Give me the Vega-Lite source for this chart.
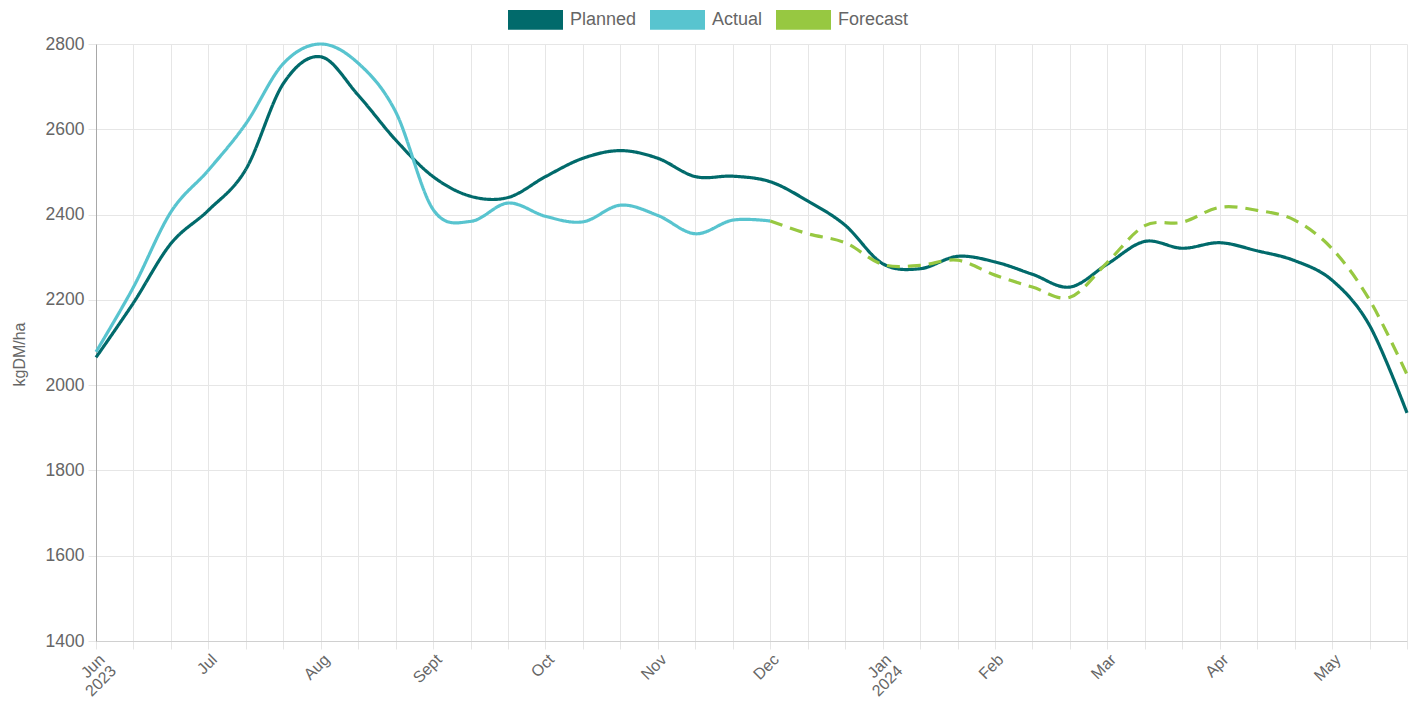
{
  "$schema": "https://vega.github.io/schema/vega-lite/v6.json",
  "width": 1311,
  "height": 597,
  "autosize": {"type": "none"},
  "padding": {"left": 96, "top": 44, "right": 10, "bottom": 63},
  "background": "white",
  "config": {
    "font": "Liberation Sans",
    "view": {"stroke": null},
    "axis": {
      "labelColor": "#666666",
      "labelFontSize": 17.5,
      "titleColor": "#666666",
      "gridColor": "#e6e6e6",
      "gridWidth": 1,
      "tickColor": "#e6e6e6",
      "tickSize": 8,
      "domainColor": "#d0d0d0"
    }
  },
  "data": {
    "values": [
      {"idx": 0, "series": "Planned", "value": 2065},
      {"idx": 1, "series": "Planned", "value": 2193},
      {"idx": 2, "series": "Planned", "value": 2332},
      {"idx": 3, "series": "Planned", "value": 2410},
      {"idx": 4, "series": "Planned", "value": 2506},
      {"idx": 5, "series": "Planned", "value": 2707},
      {"idx": 6, "series": "Planned", "value": 2770},
      {"idx": 7, "series": "Planned", "value": 2680},
      {"idx": 8, "series": "Planned", "value": 2575},
      {"idx": 9, "series": "Planned", "value": 2489},
      {"idx": 10, "series": "Planned", "value": 2443},
      {"idx": 11, "series": "Planned", "value": 2440},
      {"idx": 12, "series": "Planned", "value": 2489},
      {"idx": 13, "series": "Planned", "value": 2532},
      {"idx": 14, "series": "Planned", "value": 2550},
      {"idx": 15, "series": "Planned", "value": 2532},
      {"idx": 16, "series": "Planned", "value": 2489},
      {"idx": 17, "series": "Planned", "value": 2490},
      {"idx": 18, "series": "Planned", "value": 2477},
      {"idx": 19, "series": "Planned", "value": 2432},
      {"idx": 20, "series": "Planned", "value": 2375},
      {"idx": 21, "series": "Planned", "value": 2285},
      {"idx": 22, "series": "Planned", "value": 2273},
      {"idx": 23, "series": "Planned", "value": 2302},
      {"idx": 24, "series": "Planned", "value": 2289},
      {"idx": 25, "series": "Planned", "value": 2260},
      {"idx": 26, "series": "Planned", "value": 2230},
      {"idx": 27, "series": "Planned", "value": 2284},
      {"idx": 28, "series": "Planned", "value": 2337},
      {"idx": 29, "series": "Planned", "value": 2321},
      {"idx": 30, "series": "Planned", "value": 2334},
      {"idx": 31, "series": "Planned", "value": 2315},
      {"idx": 32, "series": "Planned", "value": 2292},
      {"idx": 33, "series": "Planned", "value": 2246},
      {"idx": 34, "series": "Planned", "value": 2140},
      {"idx": 35, "series": "Planned", "value": 1935},
      {"idx": 0, "series": "Actual", "value": 2078},
      {"idx": 1, "series": "Actual", "value": 2230},
      {"idx": 2, "series": "Actual", "value": 2406},
      {"idx": 3, "series": "Actual", "value": 2504},
      {"idx": 4, "series": "Actual", "value": 2613},
      {"idx": 5, "series": "Actual", "value": 2754},
      {"idx": 6, "series": "Actual", "value": 2800},
      {"idx": 7, "series": "Actual", "value": 2755},
      {"idx": 8, "series": "Actual", "value": 2641},
      {"idx": 9, "series": "Actual", "value": 2412},
      {"idx": 10, "series": "Actual", "value": 2384},
      {"idx": 11, "series": "Actual", "value": 2427},
      {"idx": 12, "series": "Actual", "value": 2396},
      {"idx": 13, "series": "Actual", "value": 2383},
      {"idx": 14, "series": "Actual", "value": 2422},
      {"idx": 15, "series": "Actual", "value": 2398},
      {"idx": 16, "series": "Actual", "value": 2355},
      {"idx": 17, "series": "Actual", "value": 2387},
      {"idx": 18, "series": "Actual", "value": 2385},
      {"idx": 18, "series": "Forecast", "value": 2385},
      {"idx": 19, "series": "Forecast", "value": 2355},
      {"idx": 20, "series": "Forecast", "value": 2334},
      {"idx": 21, "series": "Forecast", "value": 2283},
      {"idx": 22, "series": "Forecast", "value": 2281},
      {"idx": 23, "series": "Forecast", "value": 2293},
      {"idx": 24, "series": "Forecast", "value": 2258},
      {"idx": 25, "series": "Forecast", "value": 2230},
      {"idx": 26, "series": "Forecast", "value": 2206},
      {"idx": 27, "series": "Forecast", "value": 2288},
      {"idx": 28, "series": "Forecast", "value": 2374},
      {"idx": 29, "series": "Forecast", "value": 2382},
      {"idx": 30, "series": "Forecast", "value": 2417},
      {"idx": 31, "series": "Forecast", "value": 2410},
      {"idx": 32, "series": "Forecast", "value": 2387},
      {"idx": 33, "series": "Forecast", "value": 2320},
      {"idx": 34, "series": "Forecast", "value": 2200},
      {"idx": 35, "series": "Forecast", "value": 2025}
    ]
  },
  "mark": {"type": "line", "interpolate": "cardinal", "tension": 0, "strokeWidth": 3.2},
  "encoding": {
    "x": {
      "field": "idx",
      "type": "quantitative",
      "scale": {"domain": [0, 35], "nice": false, "zero": false},
      "axis": {
        "title": null,
        "values": [0,1,2,3,4,5,6,7,8,9,10,11,12,13,14,15,16,17,18,19,20,21,22,23,24,25,26,27,28,29,30,31,32,33,34,35],
        "labelAngle": -45,
        "labelAlign": "right",
        "labelBaseline": "top",
        "labelPadding": 2,
        "labelFontSize": 16,
        "labelLineHeight": 16,
        "labelOverlap": false,
        "labelExpr": "datum.value == 0 ? ['Jun','2023'] : datum.value == 21 ? ['Jan','2024'] : (datum.value % 3 == 0 ? ['Jun','Jul','Aug','Sept','Oct','Nov','Dec','Jan','Feb','Mar','Apr','May'][datum.value / 3] : '')"
      }
    },
    "y": {
      "field": "value",
      "type": "quantitative",
      "scale": {"domain": [1400, 2800], "nice": false, "zero": false},
      "axis": {
        "title": "kgDM/ha",
        "titleFontSize": 16,
        "titleFontWeight": "normal",
        "titlePadding": 18,
        "titleY": 310,
        "format": "d",
        "values": [1400, 1600, 1800, 2000, 2200, 2400, 2600, 2800],
        "labelPadding": 4,
        "domainColor": "#a8a8a8"
      }
    },
    "color": {
      "field": "series",
      "type": "nominal",
      "scale": {"domain": ["Planned", "Actual", "Forecast"], "range": ["#016a6b", "#58c4cf", "#97c841"]},
      "legend": {
        "title": null,
        "orient": "none",
        "direction": "horizontal",
        "legendX": 412,
        "legendY": -52,
        "symbolType": "M-1,-0.36L1,-0.36L1,0.36L-1,0.36Z",
        "symbolSize": 3025,
        "symbolStrokeWidth": 0,
        "labelFontSize": 18,
        "labelColor": "#666666",
        "labelOffset": 7,
        "columnPadding": 13,
        "encode": {"symbols": {"update": {"fill": {"scale": "color", "field": "value"}, "opacity": {"value": 1}}}}
      }
    },
    "strokeDash": {
      "field": "series",
      "type": "nominal",
      "scale": {"domain": ["Planned", "Actual", "Forecast"], "range": [[1, 0], [1, 0], [13, 8]]},
      "legend": null
    }
  }
}
